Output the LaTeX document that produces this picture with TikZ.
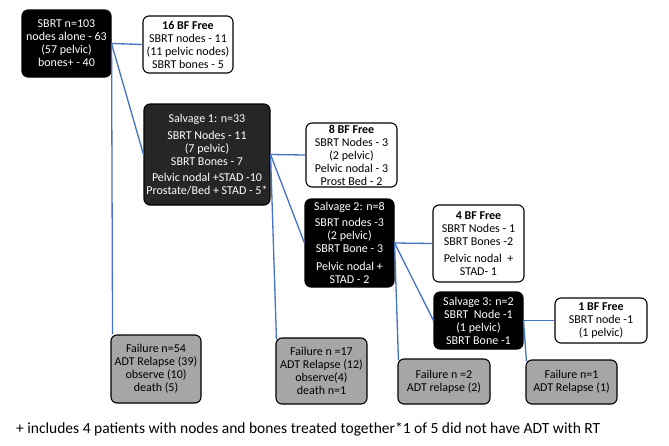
\documentclass[tikz,border=0pt]{standalone}
\usepackage{fontspec}
\setmainfont{Carlito}
\definecolor{lineblue}{HTML}{4472C4}
\definecolor{failgray}{HTML}{A6A6A6}
\definecolor{darkbox}{HTML}{262626}
\begin{document}
\begin{tikzpicture}[x=1pt,y=-1pt,
  box/.style={rounded corners=6pt, draw=black, line width=1.1pt, align=center, inner sep=0pt,
    font=\fontsize{12}{13}\selectfont},
  blackbox/.style={box, fill=black, text=white},
  darkboxst/.style={box, fill=darkbox, text=white},
  whitebox/.style={box, fill=white},
  failbox/.style={box, fill=failgray},
  conn/.style={draw=lineblue, line width=1.3pt}]
\useasboundingbox (0,0) rectangle (669,445);
\fill[white] (0,0) rectangle (669,445);

\node[blackbox, minimum width=89pt, minimum height=67pt] (A) at (66.5,43.5)
  {SBRT n=103\\ nodes alone - 63\\ (57 pelvic)\\ bones+ - 40};
\node[whitebox, minimum width=90pt, minimum height=57pt] (B) at (188,44.5)
  {\textbf{16 BF Free}\\ SBRT nodes - 11\\ (11 pelvic nodes)\\ SBRT bones - 5};
\node[darkboxst, minimum width=126pt, minimum height=101pt] (S1) at (207,154.5)
  {Salvage 1: n=33\\[4pt] SBRT Nodes - 11\\ (7 pelvic)\\ SBRT Bones - 7\\[3pt] Pelvic nodal +STAD -10\\ Prostate/Bed + STAD - 5*};
\node[whitebox, minimum width=91pt, minimum height=64pt] (C) at (351.5,155)
  {\textbf{8 BF Free}\\ SBRT Nodes - 3\\ (2 pelvic)\\ Pelvic nodal - 3\\ Prost Bed - 2};
\node[blackbox, minimum width=89pt, minimum height=88pt] (S2) at (349.5,243)
  {Salvage 2: n=8\\[3pt] SBRT nodes -3\\ (2 pelvic)\\ SBRT Bone - 3\\[5pt] Pelvic nodal +\\ STAD - 2};
\node[whitebox, minimum width=91pt, minimum height=77pt] (D) at (478.5,243.5)
  {\textbf{4 BF Free}\\ SBRT Nodes - 1\\ SBRT Bones -2\\[4pt] Pelvic nodal\ \ +\\ STAD- 1};
\node[blackbox, minimum width=89pt, minimum height=57pt] (S3) at (478.5,320.5)
  {Salvage 3: n=2\\ SBRT\ \ Node -1\\ (1 pelvic)\\ SBRT Bone -1};
\node[whitebox, minimum width=92pt, minimum height=45pt] (E) at (601,320.5)
  {\textbf{1 BF Free}\\ SBRT node -1\\ (1 pelvic)};

\node[failbox, minimum width=90pt, minimum height=68pt] (F1) at (156,369)
  {Failure n=54\\ ADT Relapse (39)\\ observe (10)\\ death (5)};
\node[failbox, minimum width=91pt, minimum height=66pt] (F2) at (321.5,371)
  {Failure n =17\\ ADT Relapse (12)\\ observe(4)\\ death n=1};
\node[failbox, minimum width=92pt, minimum height=45pt] (F3) at (444,381.5)
  {Failure n =2\\ ADT relapse (2)};
\node[failbox, minimum width=91pt, minimum height=44pt] (F4) at (571.5,382)
  {Failure n=1\\ ADT Relapse (1)};

\node[anchor=west, inner sep=0pt, font=\fontsize{15.5}{17}\selectfont] (N) at (16,429)
  {+ includes 4 patients with nodes and bones treated together*1 of 5 did not have ADT with RT};

\begin{scope}[on background layer/.try]
\path[conn] (A.east) -- (B.west);
\path[conn] (A.east) -- (S1.west);
\path[conn] (A.east) -- ([xshift=1pt]A.east |- F1.north);
\path[conn] (S1.east) -- (C.west);
\path[conn] (S1.east) -- (S2.west);
\path[conn] (S1.east) -- ([xshift=1pt,yshift=-2pt]F2.north west);
\path[conn] (S2.east) -- (D.west);
\path[conn] (S2.east) -- (S3.west);
\path[conn] (S2.east) -- ([xshift=1pt,yshift=-2pt]F3.north west);
\path[conn] (S3.east) -- (E.west);
\path[conn] (S3.east) -- ([xshift=1pt,yshift=-2pt]F4.north west);
\end{scope}
\end{tikzpicture}
\end{document}
